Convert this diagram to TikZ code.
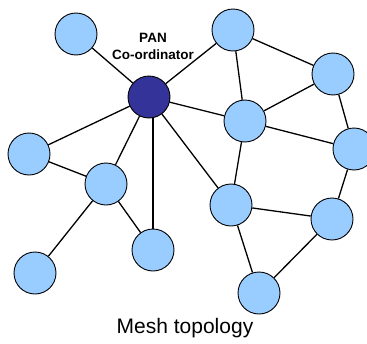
\documentclass[tikz,border=0pt]{standalone}
\usepackage{fontspec}
\setmainfont{Liberation Sans}
\definecolor{nodeblue}{HTML}{99CCFF}
\definecolor{coordblue}{HTML}{333399}
\pgfdeclarelayer{background}
\pgfsetlayers{background,main}
\begin{document}
\begin{tikzpicture}[x=1pt,y=-1pt,
  dev/.style={circle,draw=black,line width=0.9pt,fill=nodeblue,minimum size=42pt,inner sep=0pt},
  coord/.style={dev,fill=coordblue},
  link/.style={draw=black,line width=1.3pt}]
  \useasboundingbox (0,0) rectangle (367,343);
  \clip (0,0) rectangle (367,343);
  % devices
  \node[coord] (pc) at (149,97) {};
  \node[dev] (a) at (76,34) {};
  \node[dev] (b) at (233,30) {};
  \node[dev] (c) at (333,74) {};
  \node[dev] (d) at (245,121) {};
  \node[dev] (e) at (354,149) {};
  \node[dev] (f) at (29,154) {};
  \node[dev] (g) at (106,184) {};
  \node[dev] (h) at (153,250) {};
  \node[dev] (i) at (35,273) {};
  \node[dev] (j) at (231,205) {};
  \node[dev] (k) at (332,219) {};
  \node[dev] (l) at (259,293) {};
  % links, kept behind the devices
  \begin{pgfonlayer}{background}
  \foreach \u/\v in {pc/a,pc/b,pc/d,pc/f,pc/g,pc/j,b/c,b/d,c/d,c/e,d/e,d/j,e/k,j/k,j/l,k/l,f/g,g/i,g/h}
    \draw[link] (\u) -- (\v);
  \draw[link] (h) -- (h|-pc);
  \end{pgfonlayer}
  % labels
  \node[font=\bfseries\fontsize{13.5}{17}\selectfont,align=center] (lbl) at (153,46) {PAN\\Co-ordinator};
  \node[font=\fontsize{21}{24}\selectfont] (title) at (185,328) {Mesh topology};
\end{tikzpicture}
\end{document}
